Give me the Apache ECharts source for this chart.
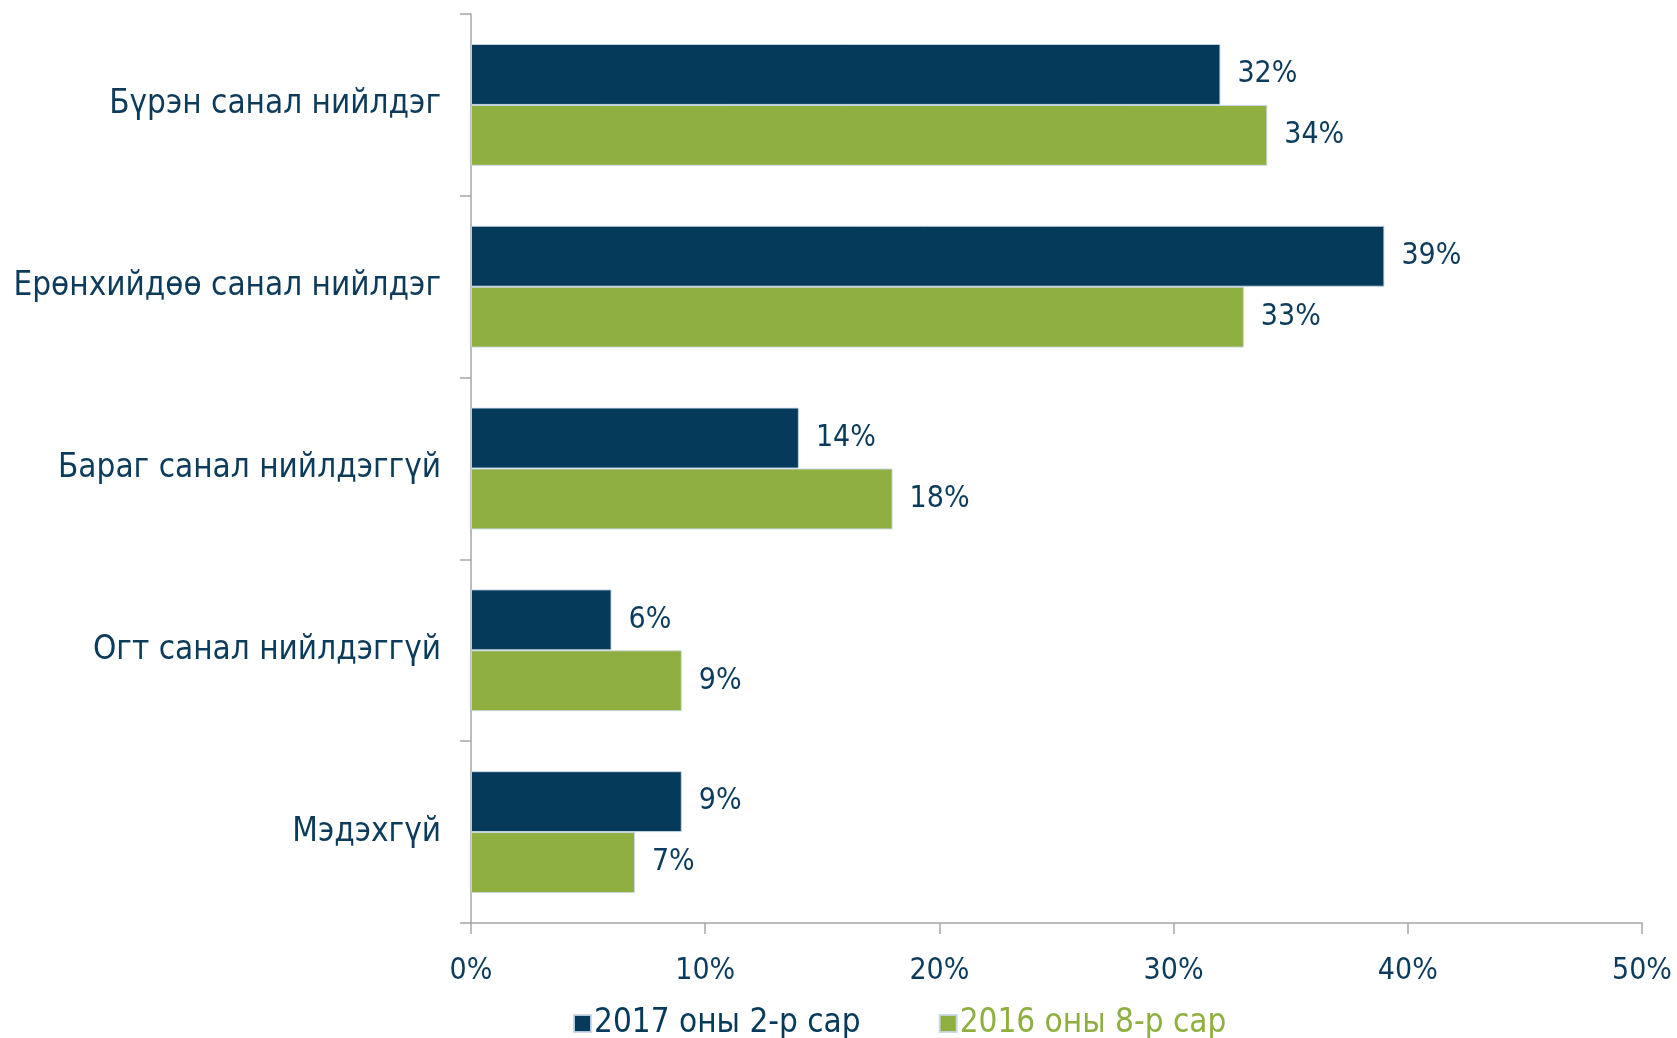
<!DOCTYPE html>
<html>
<head>
<meta charset="utf-8">
<script src="https://cdn.jsdelivr.net/npm/echarts@6/dist/echarts.min.js"></script>
<style>
  html, body { margin: 0; padding: 0; background: #ffffff; }
  #chart { width: 1677px; height: 1038px; }
</style>
</head>
<body>
<div id="chart"></div>
<script>
// Survey answers, two waves
const categories = [
  'Бүрэн санал нийлдэг',
  'Ерөнхийдөө санал нийлдэг',
  'Бараг санал нийлдэггүй',
  'Огт санал нийлдэггүй',
  'Мэдэхгүй'
];
const seriesNames = ['2017 оны 2-р сар', '2016 оны 8-р сар'];
const values2017 = [32, 39, 14, 6, 9];
const values2016 = [34, 33, 18, 9, 7];
const axisTicks = [0, 10, 20, 30, 40, 50];

const DARK = '#053a5a';
const GREEN = '#8fb040';
const TEXT = '#0d3b5c';
const FONT = '"DejaVu Sans Condensed", "DejaVu Sans", sans-serif';

const chart = echarts.init(document.getElementById('chart'));

function barSeries(name, data, color) {
  return {
    name: name,
    type: 'bar',
    data: data,
    barGap: '0%',
    barCategoryGap: '33%',
    itemStyle: { color: color, borderColor: 'rgba(200,215,230,0.9)', borderWidth: 1 },
    label: {
      show: true,
      position: 'right',
      distance: 17,
      formatter: p => p.value + '%',
      color: TEXT,
      fontFamily: FONT,
      fontSize: 30
    }
  };
}

chart.setOption({
  animation: false,
  backgroundColor: '#ffffff',
  grid: { left: 471, right: 35, top: 14, bottom: 115, containLabel: false },
  legend: {
    top: 1002,
    left: 568,
    itemWidth: 17,
    itemHeight: 17,
    itemGap: 78,
    icon: 'rect',
    textStyle: { fontFamily: FONT, fontSize: 33, padding: [0, 0, 0, -2] },
    data: [
      { name: seriesNames[0], textStyle: { color: DARK } },
      { name: seriesNames[1], textStyle: { color: GREEN } }
    ]
  },
  xAxis: {
    type: 'value',
    min: axisTicks[0],
    max: axisTicks[axisTicks.length - 1],
    interval: axisTicks[1] - axisTicks[0],
    splitLine: { show: false },
    axisLine: { show: true, lineStyle: { color: '#a6a6a6', width: 1.5 } },
    axisTick: { show: true, length: 11, lineStyle: { color: '#a6a6a6', width: 1.5 } },
    axisLabel: {
      formatter: v => v + '%',
      color: TEXT,
      fontFamily: FONT,
      fontSize: 30,
      margin: 33
    }
  },
  yAxis: {
    type: 'category',
    inverse: true,
    data: categories,
    axisLine: { show: true, lineStyle: { color: '#a6a6a6', width: 1.5 } },
    axisTick: { show: true, length: 11, lineStyle: { color: '#a6a6a6', width: 1.5 } },
    axisLabel: {
      color: TEXT,
      fontFamily: FONT,
      fontSize: 33,
      margin: 30
    }
  },
  series: [
    barSeries(seriesNames[0], values2017, DARK),
    barSeries(seriesNames[1], values2016, GREEN)
  ]
});
</script>
</body>
</html>
